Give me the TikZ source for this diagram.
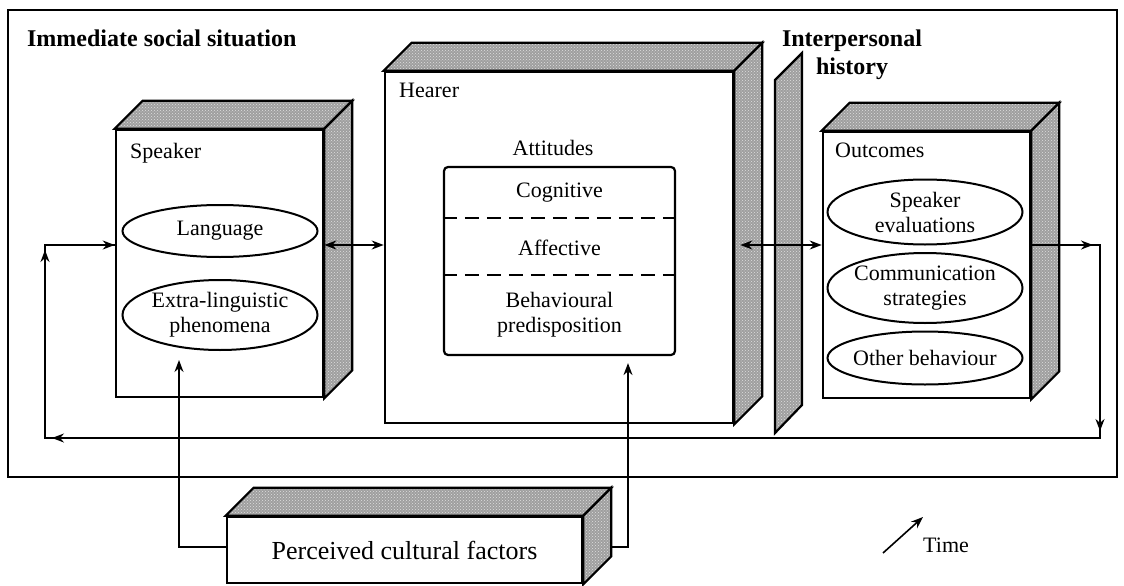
\documentclass[tikz,border=0pt]{standalone}
\usepackage{fontspec}
\setmainfont{Liberation Serif}
\usetikzlibrary{shapes.geometric,patterns,arrows.meta}
\newcommand{\solidfaces}[1]{%
  \draw[sideface] (#1.north west) -- ([shift={(28,-28)}]#1.north west) -- ([shift={(28,-28)}]#1.north east) -- (#1.north east) -- cycle;
  \draw[sideface] (#1.north east) -- ([shift={(28,-28)}]#1.north east) -- ([shift={(28,-28)}]#1.south east) -- (#1.south east) -- cycle;}

\begin{document}
\begin{tikzpicture}[x=1pt,y=-1pt,>={Stealth[length=12pt,width=9pt]},
	font=\fontsize{22}{25}\selectfont,
	frontbox/.style={draw,fill=white,line width=2.6pt,inner sep=0pt},
	sideface/.style={draw,line width=2.2pt,preaction={fill=gray!75},pattern=crosshatch dots,pattern color=gray!25},
	oval/.style={ellipse,draw,line width=2pt,minimum width=195pt,inner sep=0pt},
	heading/.style={font=\fontsize{24}{28}\selectfont\bfseries},
	link/.style={line width=1.6pt}]
	\useasboundingbox (0,0) rectangle (1124,586);
	\node[draw,line width=2.8pt,minimum width=1109pt,minimum height=467pt,inner sep=0pt] (sit) at (562.5,243.5) {};
	\node[heading,anchor=west] (sitlbl) at ([shift={(17,30)}]sit.north west) {Immediate social situation};
	\node[frontbox,minimum width=207pt,minimum height=267pt] (spk) at (219.5,263.5) {};
	\solidfaces{spk}
	\node[anchor=west] (spklbl) at ([shift={(12,25)}]spk.north west) {Speaker};
	\node[oval,minimum height=52pt,label=center:Language] (lang) at (220,231) {};
	\node[oval,minimum height=70pt,label={[align=center]center:Extra-linguistic\\phenomena}] (extra) at (220,315) {};
	\node[frontbox,minimum width=348pt,minimum height=351pt] (hear) at (559,247.5) {};
	\solidfaces{hear}
	\node[anchor=west] (hearlbl) at ([shift={(12,20)}]hear.north west) {Hearer};
	\node (attlbl) at (553,148) {Attitudes};
	\node[draw,line width=2.2pt,rounded corners=4pt,minimum width=231pt,minimum height=188pt] (att) at (559.5,261) {};
	\node (cog) at (559.5,193) {Cognitive};
	\node (aff) at (559.5,248) {Affective};
	\node[align=center] (beh) at (559.5,315) {Behavioural\\predisposition};
	\coordinate (cut1) at (559.5,218);
	\coordinate (cut2) at (559.5,275);
	\draw[line width=2.2pt,dash pattern=on 14pt off 8pt] (att.west |- cut1) -- (att.east |- cut1);
	\draw[line width=2.2pt,dash pattern=on 14pt off 8pt] (att.west |- cut2) -- (att.east |- cut2);
	\draw[sideface] (775,80) -- (802,53) -- (802,405) -- (775,433) -- cycle;
	\node[heading,align=center] (hist) at (852,55) {Interpersonal\\history};
	\node[frontbox,minimum width=207pt,minimum height=266pt] (out) at (926.5,265) {};
	\solidfaces{out}
	\node[anchor=west] (outlbl) at ([shift={(10,20)}]out.north west) {Outcomes};
	\node[oval,minimum height=65pt,label={[align=center]center:Speaker\\evaluations}] (eval) at (925,212) {};
	\node[oval,minimum height=70pt,label={[align=center]center:Communication\\strategies}] (comm) at (925,288) {};
	\node[oval,minimum height=53pt,label=center:Other behaviour] (other) at (925,358) {};
	\coordinate (fbR) at (1100,245);
	\coordinate (fbRB) at (1100,438);
	\coordinate (fbLB) at (45,438);
	\coordinate (fbL) at (45,245);
	\draw[link] (out.east |- fbR) -- (fbR) -- (fbRB) -- (fbLB) -- (fbL) -- (spk.west |- fbL);
	\draw[link,->,shorten >=7pt] (out.east |- fbR) -- (fbR);
	\draw[link,->,shorten >=7pt] (fbR) -- (fbRB);
	\draw[link,->,shorten >=7pt] (fbRB) -- (fbLB);
	\draw[link,->,shorten >=5pt] (fbLB) -- (fbL);
	\draw[link,->] (fbL) -- (spk.west |- fbL);
	\draw[link,<->] (spk.east |- fbL) -- (hear.west |- fbL);
	\draw[link,<->,shorten <=6pt] (hear.east |- fbL) -- (out.west |- fbL);
	\node[frontbox,minimum width=355pt,minimum height=66pt,font=\fontsize{26}{30}\selectfont] (pcf) at (404.5,550) {Perceived cultural factors};
	\coordinate (cfL) at (179,547);
	\coordinate (cfR) at (628,547);
	\draw[link,->,shorten >=9pt] (pcf.west |- cfL) -- (cfL) -- (cfL |- extra.south);
	\draw[link,->,shorten >=7pt] (pcf.east |- cfR) -- (cfR) -- (cfR |- att.south);
	\solidfaces{pcf}
	\node[anchor=west,inner sep=0pt] (time) at (923,545) {Time};
	\coordinate (timetail) at (883,553);
	\coordinate (timetip) at (923,517);
	\draw[link,->] (timetail) -- (timetip);
\end{tikzpicture}
\end{document}
